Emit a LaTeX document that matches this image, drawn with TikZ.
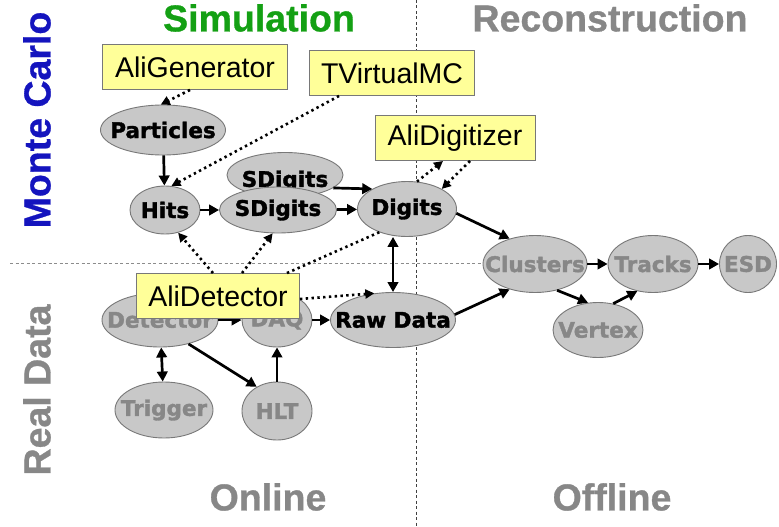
\documentclass[tikz,border=0pt]{standalone}
\usepackage{fontspec}
\setmainfont{Liberation Sans}[BoldFeatures={FakeBold=0.8}]
\newfontfamily\nodefont{DejaVu Sans}[BoldFeatures={FakeBold=1.6}]
\usetikzlibrary{shapes.geometric,arrows.meta}
\definecolor{ellfill}{RGB}{200,200,200}
\definecolor{ellborder}{RGB}{120,120,120}
\definecolor{lblgray}{RGB}{135,135,135}
\definecolor{boxyellow}{RGB}{255,255,153}
\definecolor{simgreen}{RGB}{20,160,20}
\definecolor{mcblue}{RGB}{20,20,190}
\newcommand{\zl}[1]{\makebox[0pt]{#1}}
\tikzset{
  ell/.style={ellipse, draw=ellborder, fill=ellfill, line width=0.9pt, inner sep=0pt,
    font=\nodefont\bfseries\fontsize{21.5}{21.5}\selectfont},
  ellbl/.style={inner sep=0pt, font=\nodefont\bfseries\fontsize{21.5}{21.5}\selectfont},
  ybox/.style={draw=ellborder, fill=boxyellow, line width=0.9pt, inner sep=0pt,
    font=\fontsize{28.5}{28.5}\selectfont},
  title/.style={font=\bfseries\fontsize{37.5}{37.5}\selectfont, inner sep=0pt},
  solidarr/.style={line width=2.7pt, -{Triangle[length=10pt,width=10.5pt]}},
  dblarr/.style={line width=2.7pt, {Triangle[length=10pt,width=10.5pt]}-{Triangle[length=10pt,width=10.5pt]}},
  dotarr/.style={line width=2.6pt, dash pattern=on 2.4pt off 3.4pt, -{Triangle[length=9pt,width=9pt]}},
  dotline/.style={line width=2.6pt, dash pattern=on 2.4pt off 3.4pt},
  divider/.style={line width=0.8pt, dash pattern=on 3pt off 2.5pt},
}
\begin{document}
\begin{tikzpicture}[x=1pt,y=-1pt]
\useasboundingbox (0,0) rectangle (779,527);
% dividers
\coordinate (vtop) at (416,0);
\coordinate (vbot) at (416,527);
\coordinate (hl) at (10,263);
\coordinate (hr) at (490,263);
\draw[divider, color=black!75] (vtop) -- (vbot);
\draw[divider, color=black!45] (hl) -- (hr);
% titles
\node[title, text=simgreen] (tsim) at (259,18) {Simulation};
\node[title, text=lblgray] (trec) at (610,18) {Reconstruction};
\node[title, text=lblgray] (tonl) at (268,497) {Online};
\node[title, text=lblgray] (toff) at (612,497) {Offline};
\node[title, text=mcblue, rotate=90] (tmc) at (37,120) {Monte Carlo};
\node[title, text=lblgray, rotate=90] (trd) at (37,390) {Real Data};
% ellipses
\node[ell, minimum width=125pt, minimum height=50pt] (part) at (163,130) {\zl{Particles}};
\node[ell, minimum width=70pt, minimum height=48pt] (hits) at (165,210) {\zl{Hits}};
\node[ell, minimum width=116pt, minimum height=45pt] (sdb) at (285,175) {};
\node[ellbl] (sdbl) at (285,181) {SDigits};
\node[ell, minimum width=117pt, minimum height=46pt] (sdf) at (278,210) {\zl{SDigits}};
\node[ell, minimum width=99pt, minimum height=55pt] (dig) at (407,209) {\zl{Digits}};
\node[ell, minimum width=125pt, minimum height=55pt] (raw) at (393,320) {\zl{Raw Data}};
\node[ell, minimum width=116pt, minimum height=54pt, text=lblgray] (det) at (160,320) {\zl{Detector}};
\node[ell, minimum width=70pt, minimum height=54pt, text=lblgray] (daq) at (277,320) {\zl{DAQ}};
\node[ell, minimum width=98pt, minimum height=56pt, text=lblgray] (trig) at (164,410) {\zl{Trigger}};
\node[ell, minimum width=70pt, minimum height=58pt, text=lblgray] (hlt) at (277,411) {\zl{HLT}};
\node[ell, minimum width=104pt, minimum height=57pt, text=lblgray] (clu) at (535,264) {\zl{Clusters}};
\node[ell, minimum width=90pt, minimum height=57pt, text=lblgray] (trk) at (653,264) {\zl{Tracks}};
\node[ell, minimum width=57pt, minimum height=57pt, text=lblgray] (esd) at (748,264) {\zl{ESD}};
\node[ell, minimum width=90pt, minimum height=55pt, text=lblgray] (vtx) at (598,330) {\zl{Vertex}};
% solid arrows
\draw[solidarr] (part) -- (hits);
\draw[solidarr] (hits) -- (sdf);
\draw[solidarr] (sdf) -- (dig);
\draw[solidarr] (sdb.-15) -- (dig.150);
\draw[solidarr] (dig.-5) -- (clu.135);
\draw[solidarr] (raw.5) -- (clu.-135);
\draw[dblarr] ([xshift=-14pt]dig.south) -- (raw.north);
\draw[solidarr] (det) -- (daq);
\draw[solidarr] (daq) -- (raw);
\draw[dblarr] (det) -- (trig);
\draw[solidarr] (det.-40) -- (hlt.130);
\draw[solidarr] (hlt) -- (daq);
\draw[solidarr] (clu) -- (trk);
\draw[solidarr] (trk) -- (esd);
\draw[solidarr] (clu.-50) -- (vtx.110);
\draw[solidarr] (vtx.60) -- (trk.-120);
% yellow boxes
\node[ybox, minimum width=185pt, minimum height=45pt] (agen) at (195,67) {AliGenerator};
\node[ybox, minimum width=165pt, minimum height=45pt] (tvmc) at (392,73) {TVirtualMC};
\node[ybox, minimum width=160pt, minimum height=45pt] (adig) at (455,138) {AliDigitizer};
\node[ybox, minimum width=163pt, minimum height=45pt] (adet) at (218,296) {AliDetector};
% dotted connectors
\draw[dotarr] ([xshift=-5pt]agen.south) -- (part.95);
\draw[dotarr] ([xshift=30pt]tvmc.south west) -- (hits.75);
\draw[dotarr] (dig.70) -- ([xshift=-12pt]adig.south);
\draw[dotarr] ([xshift=15pt]adig.south) -- (dig.30);
\draw[dotarr] ([xshift=-5pt]adet.north) -- (hits.-60);
\draw[dotarr] ([xshift=24pt]adet.north) -- (sdf.-103);
\draw[dotline] ([xshift=-13pt]adet.north east) -- (dig.-140);
\draw[dotarr] ([yshift=-3pt]adet.east) -- (raw.125);
\end{tikzpicture}
\end{document}
